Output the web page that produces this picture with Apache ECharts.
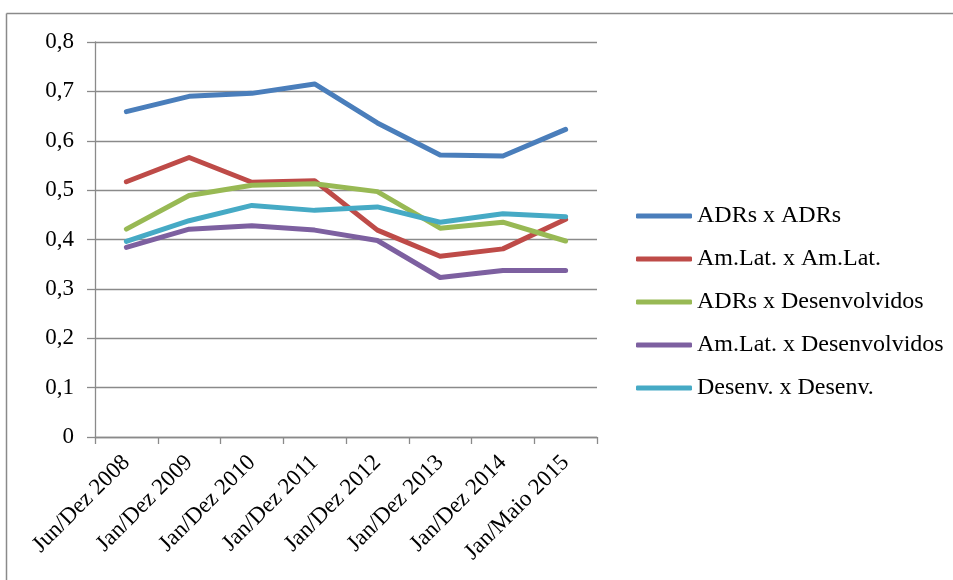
<!DOCTYPE html>
<html>
<head>
<meta charset="utf-8">
<script src="https://cdn.jsdelivr.net/npm/echarts@6/dist/echarts.min.js"></script>
<style>
  html, body { margin: 0; padding: 0; background: #fff; }
  #chart { width: 953px; height: 580px; }
</style>
</head>
<body>
<div id="chart"></div>
<script>
// Periods on the category axis
const periods = ['Jun/Dez 2008', 'Jan/Dez 2009', 'Jan/Dez 2010', 'Jan/Dez 2011',
                 'Jan/Dez 2012', 'Jan/Dez 2013', 'Jan/Dez 2014', 'Jan/Maio 2015'];

// Average correlations per group pair
const adrsAdrs     = [0.659, 0.690, 0.696, 0.715, 0.636, 0.571, 0.569, 0.623];
const amlatAmlat   = [0.517, 0.566, 0.516, 0.519, 0.419, 0.366, 0.381, 0.441];
const adrsDesenv   = [0.421, 0.489, 0.510, 0.513, 0.497, 0.423, 0.435, 0.397];
const amlatDesenv  = [0.384, 0.421, 0.428, 0.419, 0.398, 0.323, 0.337, 0.337];
const desenvDesenv = [0.396, 0.438, 0.469, 0.459, 0.466, 0.435, 0.452, 0.446];

const seriesNames = ['ADRs x ADRs', 'Am.Lat. x Am.Lat.', 'ADRs x Desenvolvidos',
                     'Am.Lat. x Desenvolvidos', 'Desenv. x Desenv.'];
const seriesData = [adrsAdrs, amlatAmlat, adrsDesenv, amlatDesenv, desenvDesenv];
const seriesColors = ['#4A7EBB', '#BE4B48', '#98B954', '#7D60A0', '#46AAC5'];

const serif = '"Liberation Serif", "Times New Roman", serif';
const gridGrey = '#8a8a8a';

const chart = echarts.init(document.getElementById('chart'), null, { renderer: 'canvas' });

chart.setOption({
  animation: false,
  backgroundColor: '#ffffff',
  grid: { left: 95, right: 356, top: 42, bottom: 143, containLabel: false },
  legend: {
    orient: 'vertical',
    left: 636,
    top: 204,
    padding: 0,
    itemWidth: 56,
    itemHeight: 5,
    itemGap: 19,
    icon: 'roundRect',
    data: seriesNames,
    textStyle: { fontFamily: serif, fontSize: 24, color: '#000', lineHeight: 24 }
  },
  xAxis: {
    type: 'category',
    data: periods,
    boundaryGap: true,
    axisLine: { lineStyle: { color: gridGrey, width: 1.3 } },
    axisTick: { show: true, inside: false, length: 7, lineStyle: { color: gridGrey, width: 1.3 } },
    axisLabel: {
      rotate: 45,
      interval: 0,
      margin: 22,
      fontFamily: serif,
      fontSize: 23,
      color: '#000'
    },
    splitLine: { show: false }
  },
  yAxis: {
    type: 'value',
    min: 0,
    max: 0.8,
    interval: 0.1,
    axisLine: { show: true, lineStyle: { color: gridGrey, width: 1.3 } },
    axisTick: { show: true, inside: false, length: 8, lineStyle: { color: gridGrey, width: 1.3 } },
    axisLabel: {
      margin: 21,
      fontFamily: serif,
      fontSize: 23,
      color: '#000',
      formatter: v => (v === 0 ? '0' : v.toFixed(1).replace('.', ','))
    },
    splitLine: { show: true, lineStyle: { color: gridGrey, width: 1.3 } }
  },
  graphic: [
    { type: 'line', shape: { x1: 6.5, y1: 13.5, x2: 953, y2: 13.5 }, style: { stroke: gridGrey, lineWidth: 1.5 } },
    { type: 'line', shape: { x1: 6.5, y1: 13.5, x2: 6.5, y2: 580 }, style: { stroke: gridGrey, lineWidth: 1.5 } }
  ],
  series: seriesNames.map((name, i) => ({
    name,
    type: 'line',
    data: seriesData[i],
    symbol: 'none',
    showSymbol: false,
    smooth: false,
    color: seriesColors[i],
    lineStyle: { width: 5, color: seriesColors[i], cap: 'round', join: 'round' }
  }))
});
</script>
</body>
</html>
